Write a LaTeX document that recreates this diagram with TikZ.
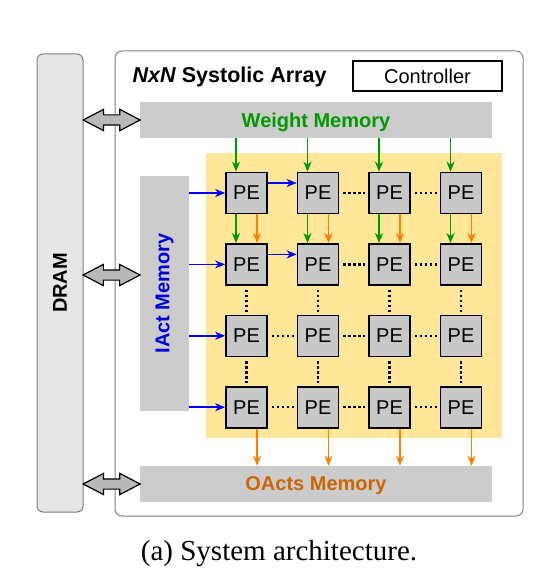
\documentclass[tikz,border=0pt]{standalone}
\usepackage{fontspec}
\setmainfont{Liberation Sans}
\newfontfamily\capfont{Liberation Serif}
\usepackage{tikz}
\usetikzlibrary{positioning, arrows.meta, shapes.arrows, calc}
\definecolor{wgreen}{RGB}{0,153,0}
\definecolor{oarrow}{RGB}{255,128,0}
\definecolor{otext}{RGB}{204,102,0}
\definecolor{iblue}{RGB}{0,0,220}
\definecolor{arrbg}{RGB}{255,230,153}
\definecolor{membg}{RGB}{204,204,204}
\definecolor{pefill}{RGB}{200,200,200}
\definecolor{drambg}{RGB}{230,230,230}
\tikzset{
  pebox/.style={
    draw, rectangle, line width=1.6pt,
    minimum width=41pt, minimum height=41pt,
    fill=pefill, inner sep=0pt,
    font=\fontsize{20}{24}\selectfont
  },
  membar/.style={
    rectangle, fill=membg, inner sep=0pt, text depth=0pt,
    font=\fontsize{20}{24}\selectfont\bfseries
  },
  bus/.style={
    double arrow, draw, fill=gray!55, line width=1.2pt,
    minimum height=57pt, inner sep=0pt,
    double arrow head extend=5.5pt, double arrow tip angle=55
  },
  wflow/.style={-{Stealth[length=10pt, width=8pt, inset=3pt]}, line width=1.6pt, wgreen},
  oflow/.style={-{Stealth[length=10pt, width=8pt, inset=3pt]}, line width=1.6pt, oarrow},
  iflow/.style={-{Stealth[length=10pt, width=8pt, inset=3pt]}, line width=1.6pt, blue},
  dotl/.style={line width=2.5pt, dash pattern=on 2.5pt off 2.5pt, shorten <=4pt, shorten >=3pt},
}
\newcommand{\busgap}{\rule{0pt}{9pt}}
\begin{document}
\begin{tikzpicture}[x=1pt, y=-1pt]
  \useasboundingbox[fill=white] (0,0) rectangle (535,577);
  % outer blocks
  \node[draw=gray, line width=1pt, fill=drambg, rounded corners=6pt,
        minimum width=46pt, minimum height=458pt, inner sep=0pt] (dram) at (60,283) {};
  \node[rotate=90, font=\fontsize{20}{24}\selectfont\bfseries] at (dram) {DRAM};
  \node[draw=gray, line width=1pt, rounded corners=7pt,
        minimum width=408pt, minimum height=465pt, inner sep=0pt] (sysarr) at (319,283.5) {};
  \node[anchor=base west, font=\fontsize{21.5}{25}\selectfont\bfseries] (title) at (129,83)
    {\textit{NxN} Systolic Array};
  \node[draw, line width=1.6pt, minimum width=149pt, minimum height=30pt, inner sep=0pt,
        font=\fontsize{20}{24}\selectfont] (ctrl) at (427.5,76) {Controller};
  % memories
  \node[membar, minimum width=352pt, minimum height=36pt, text=wgreen] (wmem) at (316,120) {Weight Memory};
  \node[membar, minimum width=352pt, minimum height=36pt, text=otext] (omem) at (316,484) {OActs Memory};
  \node[membar, minimum width=49pt, minimum height=235pt] (imem) at (164.5,293.5) {};
  \node[rotate=90, font=\fontsize{20}{24}\selectfont\bfseries, text=iblue] at (imem) {IAct Memory};
  % PE array
  \node[fill=arrbg, minimum width=296pt, minimum height=285pt, inner sep=0pt] (pearr) at (354,295.5) {};
  \foreach \r/\cy in {1/193, 2/264.4, 3/335.8, 4/407.2}{
    \foreach \c/\cx in {1/246.5, 2/318, 3/389.5, 4/461}{
      \node[pebox] (pe-\r-\c) at (\cx,\cy) {PE};
    }
  }
  % DRAM links
  \node[bus] (bw) at ($(dram.east |- wmem.west)!0.5!(wmem.west)$) {\busgap};
  \node[bus] (bi) at (111.5,275) {\busgap};
  \node[bus] (bo) at ($(dram.east |- omem.west)!0.5!(omem.west)$) {\busgap};
  % weights down, outputs down
  \foreach \c in {1,2,3,4}{
    \draw[wflow] ([xshift=-10.5pt]pe-1-\c.north |- wmem.south) -- ([xshift=-10.5pt]pe-1-\c.north);
    \draw[wflow] ([xshift=-10.5pt]pe-1-\c.south) -- ([xshift=-10.5pt]pe-2-\c.north);
    \draw[oflow] ([xshift=10.5pt]pe-1-\c.south) -- ([xshift=10.5pt]pe-2-\c.north);
    \draw[oflow] ([xshift=10.5pt]pe-4-\c.south) -- ([xshift=10.5pt]pe-4-\c.south |- omem.north);
    \draw[dotl] (pe-2-\c.south) -- (pe-3-\c.north);
    \draw[dotl] (pe-3-\c.south) -- (pe-4-\c.north);
  }
  % activations in
  \foreach \r in {1,2,3,4}{
    \draw[iflow] (pe-\r-1.west -| imem.east) -- (pe-\r-1.west);
    \draw[dotl] (pe-\r-2.east) -- (pe-\r-3.west);
    \draw[dotl] (pe-\r-3.east) -- (pe-\r-4.west);
  }
  \draw[iflow] ([yshift=10pt]pe-1-1.east) -- ([yshift=10pt]pe-1-2.west);
  \draw[iflow] ([yshift=10pt]pe-2-1.east) -- ([yshift=10pt]pe-2-2.west);
  \draw[dotl] (pe-3-1.east) -- (pe-3-2.west);
  \draw[dotl] (pe-4-1.east) -- (pe-4-2.west);
  % caption
  \node[anchor=base, font=\capfont\fontsize{29}{34}\selectfont] (cap) at (279,560)
    {(a) System architecture.};
\end{tikzpicture}
\end{document}
